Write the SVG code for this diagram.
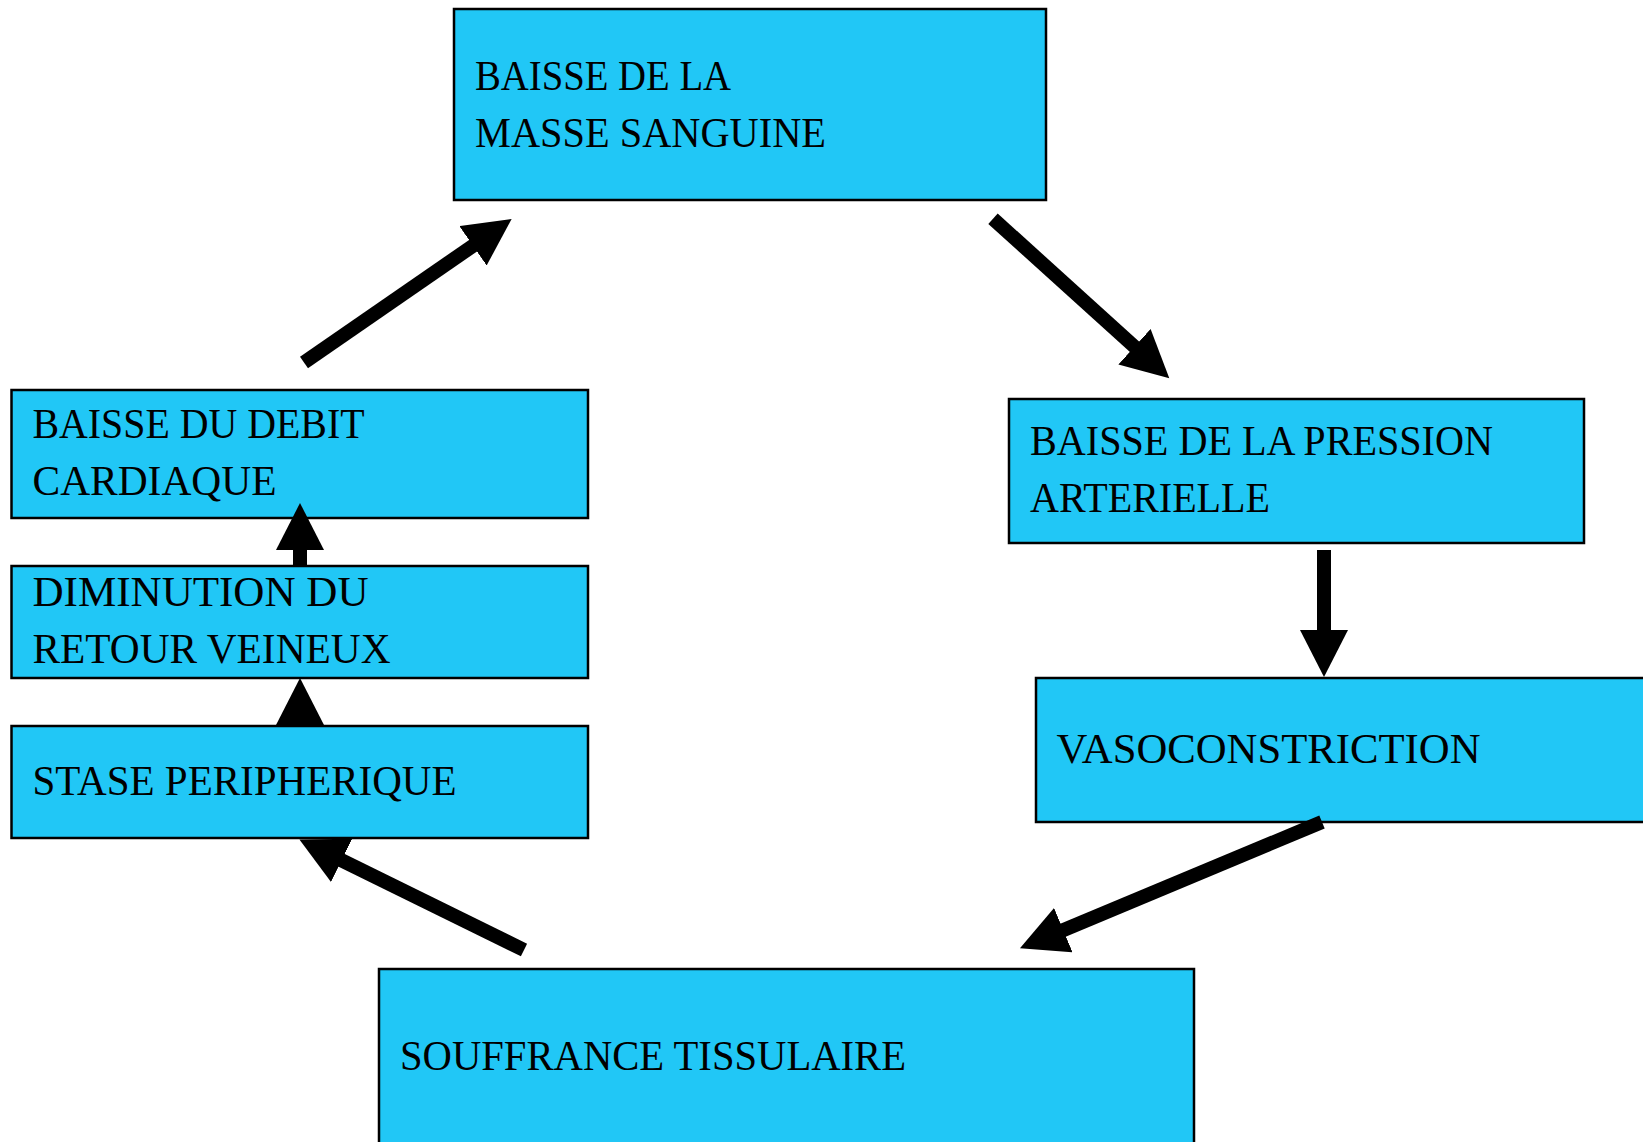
<svg xmlns="http://www.w3.org/2000/svg" width="1643" height="1142" viewBox="0 0 1643 1142">
<style>
.box{fill:#21C7F6;stroke:#000;stroke-width:2.5}
.lbl{font-family:"Liberation Serif","Times New Roman",serif;font-size:42px;fill:#000}
.conn{stroke:#000;stroke-width:14;fill:none;marker-end:url(#ah)}
</style>
<defs>
<marker id="ah" markerUnits="userSpaceOnUse" markerWidth="48" markerHeight="48" refX="1" refY="24" orient="auto" viewBox="0 0 48 48">
<path d="M0,0 L47,24 L0,48 Z" fill="#000"/>
</marker>
</defs>
<rect width="1643" height="1142" fill="#fff"/>
<g id="node-masse">
<rect class="box" x="454" y="9" width="592" height="191"/>
<text class="lbl" x="475" y="89.5" textLength="256" lengthAdjust="spacingAndGlyphs">BAISSE DE LA</text>
<text class="lbl" x="475" y="147" textLength="351" lengthAdjust="spacingAndGlyphs">MASSE SANGUINE</text>
</g>
<g id="node-pression">
<rect class="box" x="1009" y="399" width="575" height="144"/>
<text class="lbl" x="1030" y="455" textLength="463" lengthAdjust="spacingAndGlyphs">BAISSE DE LA PRESSION</text>
<text class="lbl" x="1030" y="511.5" textLength="240" lengthAdjust="spacingAndGlyphs">ARTERIELLE</text>
</g>
<g id="node-vaso">
<rect class="box" x="1036" y="678" width="640" height="144"/>
<text class="lbl" x="1056.5" y="763" textLength="424" lengthAdjust="spacingAndGlyphs">VASOCONSTRICTION</text>
</g>
<g id="node-souffrance">
<rect class="box" x="379" y="969" width="815" height="200"/>
<text class="lbl" x="400" y="1070" textLength="506" lengthAdjust="spacingAndGlyphs">SOUFFRANCE TISSULAIRE</text>
</g>
<g id="node-stase">
<rect class="box" x="11.5" y="726" width="576.5" height="112"/>
<text class="lbl" x="32.5" y="795" textLength="424" lengthAdjust="spacingAndGlyphs">STASE PERIPHERIQUE</text>
</g>
<g id="node-retour">
<rect class="box" x="11.5" y="566" width="576.5" height="112"/>
<text class="lbl" x="32.5" y="605.5" textLength="336" lengthAdjust="spacingAndGlyphs">DIMINUTION DU</text>
<text class="lbl" x="32.5" y="662.5" textLength="358" lengthAdjust="spacingAndGlyphs">RETOUR VEINEUX</text>
</g>
<g id="node-debit">
<rect class="box" x="11.5" y="390" width="576.5" height="128"/>
<text class="lbl" x="32.5" y="437.5" textLength="332" lengthAdjust="spacingAndGlyphs">BAISSE DU DEBIT</text>
<text class="lbl" x="32.5" y="494.5" textLength="244" lengthAdjust="spacingAndGlyphs">CARDIAQUE</text>
</g>
<g id="connectors">
<line class="conn" x1="993" y1="218.7" x2="1135.2" y2="347.4"/>
<line class="conn" x1="1324" y1="550" x2="1324" y2="631"/>
<line class="conn" x1="1322" y1="822" x2="1062.4" y2="930.5"/>
<line class="conn" x1="524" y1="950" x2="340.7" y2="859.9"/>
<line class="conn" x1="300" y1="727" x2="300" y2="724"/>
<line class="conn" x1="300" y1="566" x2="300" y2="549"/>
<line class="conn" x1="304" y1="362.5" x2="473.8" y2="245.2"/>
</g>
</svg>
